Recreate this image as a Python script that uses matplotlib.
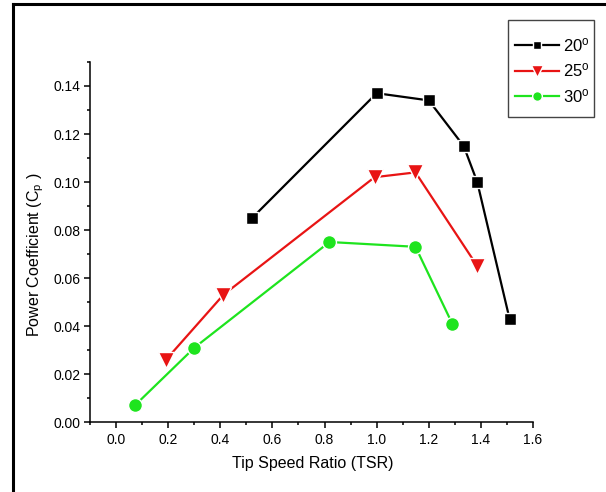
import numpy as np
import matplotlib
matplotlib.use('Agg')
import matplotlib.pyplot as plt
from matplotlib.lines import Line2D
from matplotlib.patches import Rectangle
from matplotlib.ticker import MultipleLocator

plt.rcParams['font.family'] = ['Liberation Sans', 'DejaVu Sans']
plt.rcParams['mathtext.default'] = 'regular'

# Cp vs TSR for three blade pitch angles
tsr_20 = [0.522, 1.0, 1.2, 1.334, 1.386, 1.51]
cp_20 = [0.085, 0.137, 0.134, 0.115, 0.100, 0.043]

tsr_25 = [0.192, 0.412, 0.992, 1.149, 1.386]
cp_25 = [0.026, 0.053, 0.102, 0.104, 0.065]

tsr_30 = [0.073, 0.301, 0.819, 1.149, 1.29]
cp_30 = [0.007, 0.031, 0.075, 0.073, 0.041]

labels = [r'20$^{o}$', r'25$^{o}$', r'30$^{o}$']

RED = '#e81414'
GREEN = '#1ee41e'

W, H = 606, 492
fig = plt.figure(figsize=(W/100, H/100), dpi=100)
ax = fig.add_axes([90/W, 1-422/H, 443/W, 360/H])

lw = 1.6
ax.plot(tsr_20, cp_20, '-s', color='black', lw=lw, ms=8.5,
        mec='white', mew=1.0, label=labels[0])
ax.plot(tsr_25, cp_25, '-v', color=RED, lw=lw, ms=12,
        mec='white', mew=1.0, label=labels[1])
ax.plot(tsr_30, cp_30, '-o', color=GREEN, lw=lw, ms=10,
        mec='white', mew=1.0, label=labels[2])

ax.set_xlim(-0.1, 1.6)
ax.set_ylim(0, 0.15)
ax.xaxis.set_major_locator(MultipleLocator(0.2))
ax.xaxis.set_minor_locator(MultipleLocator(0.1))
ax.yaxis.set_major_locator(MultipleLocator(0.02))
ax.yaxis.set_minor_locator(MultipleLocator(0.01))
ax.xaxis.set_major_formatter(lambda v, p: f'{v:.1f}')
ax.yaxis.set_major_formatter(lambda v, p: f'{v:.2f}')

for s in ['top', 'right']:
    ax.spines[s].set_visible(False)
for s in ['left', 'bottom']:
    ax.spines[s].set_linewidth(1.1)

ax.tick_params(which='both', direction='out', width=1.1, labelsize=10)
ax.tick_params(which='major', length=4.5)
ax.tick_params(which='minor', length=2.5)
ax.tick_params(axis='x', pad=3.5)
ax.tick_params(axis='y', pad=2.5)

ax.set_xlabel('Tip Speed Ratio (TSR)', fontsize=11.5)
ax.set_ylabel(r'Power Coefficient (C$_{p}$ )', fontsize=11.5)
ax.xaxis.set_label_coords(0.503, -0.095)
ax.yaxis.set_label_coords(-0.10, 0.464)

# legend sits in a hand-drawn box so the top/bottom padding can be larger
box_l, box_t, box_r, box_b = 508, 20, 594, 117
fig.add_artist(Rectangle((box_l/W, 1-box_b/H), (box_r-box_l)/W, (box_b-box_t)/H,
                         transform=fig.transFigure, fill=False,
                         edgecolor='#444444', lw=1.0))
fig.legend(loc='center', bbox_to_anchor=((box_l+box_r+3)/2/W, 1-(box_t+box_b+4)/2/H),
           fontsize=12, frameon=False, markerscale=0.7,
           handlelength=2.6, handletextpad=0.25, labelspacing=0.45,
           borderpad=0, borderaxespad=0)

# frame lines along the top and left
fig.add_artist(Line2D([13/W, 1], [1-4/H, 1-4/H], color='black', lw=2.2,
                      transform=fig.transFigure))
fig.add_artist(Line2D([13/W, 13/W], [0, 1-4/H], color='black', lw=2.2,
                      transform=fig.transFigure))

fig.savefig('out.png', dpi=100, facecolor='white')
